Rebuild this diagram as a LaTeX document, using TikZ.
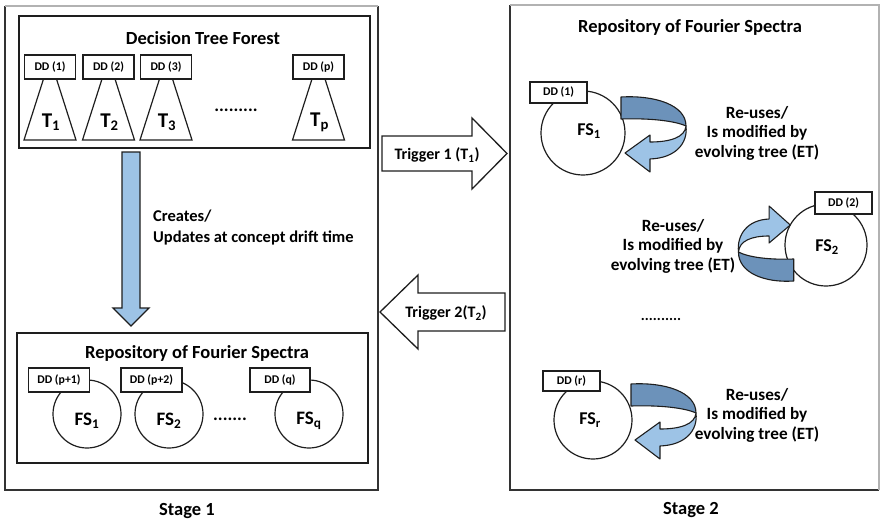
\documentclass[tikz,border=0pt]{standalone}
\usepackage{fontspec}
\setmainfont{Carlito}
\definecolor{ribdark}{RGB}{108,146,186}
\definecolor{riblight}{RGB}{157,195,230}
\definecolor{blockblue}{RGB}{157,195,230}
\definecolor{inkline}{RGB}{30,30,30}
\tikzset{
  titletext/.style={inner sep=0pt, font=\fontsize{18.5}{21}\selectfont\bfseries},
  bodytext/.style={inner sep=0pt, align=center, font=\fontsize{17.2}{19.5}\selectfont\bfseries},
  sidetext/.style={inner sep=0pt, align=left, font=\fontsize{16.5}{21}\selectfont\bfseries},
  trigtext/.style={inner sep=0pt, font=\fontsize{16}{18}\selectfont\bfseries},
  bigsym/.style={inner sep=0pt, font=\fontsize{21}{23}\selectfont\bfseries},
  fssym/.style={inner sep=0pt, font=\fontsize{19}{21}\selectfont\bfseries},
  dotrow/.style={inner sep=0pt, font=\fontsize{18}{20}\selectfont\bfseries},
  ddbox/.style={draw=inkline, fill=white, line width=1.1pt, inner sep=0pt,
                font=\fontsize{11.8}{13}\selectfont\bfseries},
  fscircle/.style={draw=inkline, circle, line width=1.2pt, inner sep=0pt, fill=white},
  treeshape/.style={draw=inkline, line width=1.2pt, line join=miter},
  innerbox/.style={draw=inkline, line width=2pt, inner sep=0pt},
  stageline/.style={draw=black!80, line width=1.4pt},
  stagetop/.style={draw=black!30, line width=1.2pt},
  blockarrow/.style={draw=inkline, line width=1.3pt, line join=miter},
  ribbonedge/.style={draw=inkline, line width=1.1pt, line join=round},
  ribbon/.pic={
    % back side of the loop (tail)
    \filldraw[ribbonedge, fill=ribdark]
      (38,-36) .. controls (72,-38) and (103,-28) .. (103,-7)
      .. controls (92,-12) and (68,-15) .. (38,-14) -- cycle;
    % front side of the loop with the head
    \filldraw[ribbonedge, fill=riblight]
      (103,-7) .. controls (102,4) and (88,9) .. (67,9)
      -- (67,2) -- (42,20) -- (67,39) -- (67,26)
      .. controls (93,25) and (105,10) .. (103,-7) -- cycle;
  }
}
\begin{document}
\begin{tikzpicture}[x=1pt, y=-1pt]
\useasboundingbox (0,0) rectangle (880,522);

% ---------------- Stage 1 frame ----------------
\draw[stageline] (5,6) -- (5,490) -- (378,490) -- (378,6);
\draw[stagetop] (5,6) -- (378,6);

% Decision tree forest
\node[innerbox, minimum width=351, minimum height=132] (forest) at (194.5,82) {};
\node[titletext] (foresttitle) at (203,38) {Decision Tree Forest};

\foreach \c/\n in {50/1, 108.5/2, 166/3, 318.5/p} {
  \draw[treeshape] (\c-6.5,79) -- (\c+6.5,79) -- (\c+26,140) -- (\c-26,140) -- cycle;
  \node[ddbox, minimum width=51, minimum height=24] (dd\n) at (\c,67) {DD (\n)};
  \node[bigsym] (t\n) at (\c+1,122) {T\textsubscript{\n}};
}
\node[dotrow] (treedots) at (236,110) {.........};

% Creates / updates arrow
\draw[blockarrow, fill=blockblue]
  (122,152) -- (140,152) -- (140,308) -- (149,308) -- (131,326)
  -- (113,308) -- (122,308) -- cycle;
\node[sidetext, anchor=west] (creates) at (153,228) {Creates/\\Updates at concept drift time};

% Repository of Fourier spectra (stage 1)
\node[innerbox, minimum width=351, minimum height=130] (repo1) at (192.5,398) {};
\node[titletext] (repo1title) at (197,353) {Repository of Fourier Spectra};

\node[fscircle, minimum size=68] (sfa) at (87,414) {};
\node[fscircle, minimum size=68] (sfb) at (169,414) {};
\node[fscircle, minimum size=68] (sfq) at (309,414) {};
\node[ddbox, minimum width=61, minimum height=24] (ddpa) at (59,380) {DD (p+1)};
\node[ddbox, minimum width=61, minimum height=24] (ddpb) at (151.5,380) {DD (p+2)};
\node[ddbox, minimum width=60, minimum height=24] (ddq) at (280,380) {DD (q)};
\node[fssym] (sfalab) at (87,421) {FS\textsubscript{1}};
\node[fssym] (sfblab) at (169,421) {FS\textsubscript{2}};
\node[fssym] (sfqlab) at (309,421) {FS\textsubscript{q}};
\node[dotrow] (repodots) at (230,419) {.......};

\node[titletext] (stage1) at (187,511) {Stage 1};

% ---------------- Triggers ----------------
\draw[blockarrow, fill=white]
  (382,136) -- (472,136) -- (472,118) -- (507,153.5) -- (472,189)
  -- (472,171) -- (382,171) -- cycle;
\node[trigtext] (trig1) at (437,155) {Trigger 1 (T\textsubscript{1})};
\draw[blockarrow, fill=white]
  (505,293) -- (418,293) -- (418,275) -- (380,312) -- (418,349)
  -- (418,331) -- (505,331) -- cycle;
\node[trigtext] (trig2) at (446,313) {Trigger 2(T\textsubscript{2})};

% ---------------- Stage 2 frame ----------------
\draw[stageline] (879,490) -- (510,490) -- (510,5);
\draw[stagetop] (510,5) -- (879,5) -- (879,490);
\node[titletext] (repo2title) at (690,27) {Repository of Fourier Spectra};

% FS_1 with its evolving tree loop
\node[fscircle, minimum size=84] (ra) at (583,133) {};
\node[ddbox, minimum width=57, minimum height=21] (rdda) at (558.5,92.5) {DD (1)};
\pic at (583,133) {ribbon};
\node[fssym, font=\fontsize{18}{20}\selectfont\bfseries] (ralab) at (589,131) {FS\textsubscript{1}};
\node[bodytext] (rat) at (757,133) {Re-uses/\\Is modified by\\evolving tree (ET)};

% FS_2 with its evolving tree loop
\node[fscircle, minimum size=82] (rb) at (826,245) {};
\node[ddbox, minimum width=57, minimum height=22] (rddb) at (843.5,203) {DD (2)};
\pic[rotate=180, xscale=0.85] at (826,245) {ribbon};
\node[fssym, font=\fontsize{18}{20}\selectfont\bfseries] (rblab) at (827,247) {FS\textsubscript{2}};
\node[bodytext] (rbt) at (673,246) {Re-uses/\\Is modified by\\evolving tree (ET)};

\node[dotrow, font=\fontsize{15}{17}\selectfont\bfseries] (r2dots) at (661,319) {..........};

% FS_r with its evolving tree loop
\node[fscircle, minimum size=78] (rr) at (593,420) {};
\node[ddbox, minimum width=57, minimum height=20] (rddr) at (571.5,381) {DD (r)};
\pic at (593,420) {ribbon};
\node[fssym, font=\fontsize{18}{20}\selectfont\bfseries] (rrlab) at (590,420) {FS\textsubscript{r}};
\node[bodytext] (rrt) at (757,415) {Re-uses/\\Is modified by\\evolving tree (ET)};

\node[titletext] (stage2) at (691,510) {Stage 2};
\end{tikzpicture}
\end{document}
